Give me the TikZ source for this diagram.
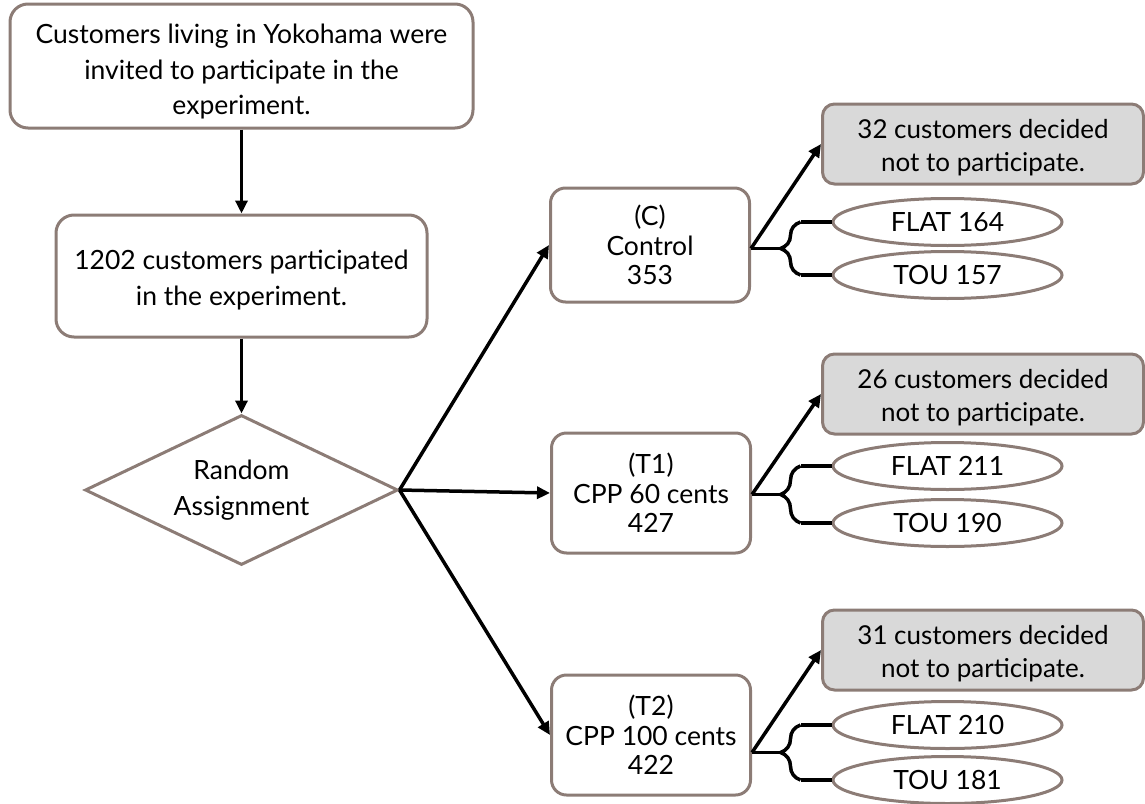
\documentclass[tikz,border=0pt]{standalone}
\usepackage{fontspec}
\setmainfont{Lato}
\usetikzlibrary{shapes.geometric,arrows.meta,decorations.pathreplacing,calc}
\definecolor{bord}{RGB}{140,124,118}
\definecolor{grayfill}{RGB}{217,217,217}
\begin{document}
\begin{tikzpicture}[x=1pt,y=-1pt,
  font=\fontsize{26.5}{35.5}\selectfont,
  box/.style={draw=bord, line width=3pt, rounded corners=18pt, align=center, inner sep=0pt},
  grpbox/.style={box, rounded corners=15pt, minimum width=199pt, minimum height=118pt, font=\fontsize{26.5}{29.5}\selectfont},
  gbox/.style={box, fill=grayfill, rounded corners=12pt, minimum width=321pt, minimum height=80pt, font=\fontsize{26}{33}\selectfont},
  oval/.style={draw=bord, line width=3pt, ellipse, minimum width=229pt, minimum height=47pt, inner sep=0pt},
  conn/.style={line width=3.5pt, black},
  arr/.style={conn, -{Triangle[length=13pt,width=12pt]}}
]
\useasboundingbox (0,0) rectangle (1145,803);

\node[box, minimum width=463pt, minimum height=124pt] (top) at (241.5,66)
  {\rule{0pt}{31pt}Customers living in Yokohama were\\invited to participate in the\\experiment.};
\node[box, minimum width=371pt, minimum height=122pt] (part) at (241.5,276)
  {\rule{0pt}{28pt}1202 customers participated\\in the experiment.};
\node[draw=bord, line width=3pt, diamond, aspect=2.087, minimum width=313pt,
  minimum height=150pt, inner sep=0pt, align=center] (rand) at (241.5,490)
  {Random\\Assignment};

\node[grpbox, minimum height=114pt] (c) at (650,245) {(C)\\Control\\353};
\node[grpbox, minimum height=120pt] (t1) at (651,493) {(T1)\\CPP 60 cents\\427};
\node[grpbox, minimum height=120pt] (t2) at (651,735) {(T2)\\CPP 100 cents\\422};

\node[gbox] (g1) at (983,144) {\rule{0pt}{26pt}32 customers decided\\not to participate.};
\node[gbox] (g2) at (983,394) {\rule{0pt}{26pt}26 customers decided\\not to participate.};
\node[gbox] (g3) at (983,650) {\rule{0pt}{26pt}31 customers decided\\not to participate.};

\node[oval] (f1) at (947.5,222) {FLAT 164};
\node[oval] (u1) at (947.5,275) {TOU 157};
\node[oval] (f2) at (947.5,466) {FLAT 211};
\node[oval] (u2) at (947.5,523) {TOU 190};
\node[oval] (f3) at (947.5,725) {FLAT 210};
\node[oval] (u3) at (947.5,780) {TOU 181};

\draw[arr] (top.south) -- (part.north);
\draw[arr] (part.south) -- (rand.north);
\draw[arr] (rand.east) -- (c.west);
\draw[arr] (rand.east) -- (t1.west);
\draw[arr] (rand.east) -- (t2.west);

\foreach \b/\f/\u/\g in {c/f1/u1/g1, t1/f2/u2/g2, t2/f3/u3/g3}{
  \coordinate (tip\b) at ($(\f.west)!0.5!(\u.west)+(-51,0)$);
  \draw[conn] (\b.east |- tip\b) -- (tip\b);
  \draw[conn] (\f.west) -- ++(-31,0);
  \draw[conn] (\u.west) -- ++(-31,0);
  \draw[conn, decorate, decoration={brace, amplitude=20pt}]
    ($(\u.west)+(-31,0)$) -- ($(\f.west)+(-31,0)$);
  \draw[arr] (\b.east |- tip\b) -- (\g.west);
}
\end{tikzpicture}
\end{document}
